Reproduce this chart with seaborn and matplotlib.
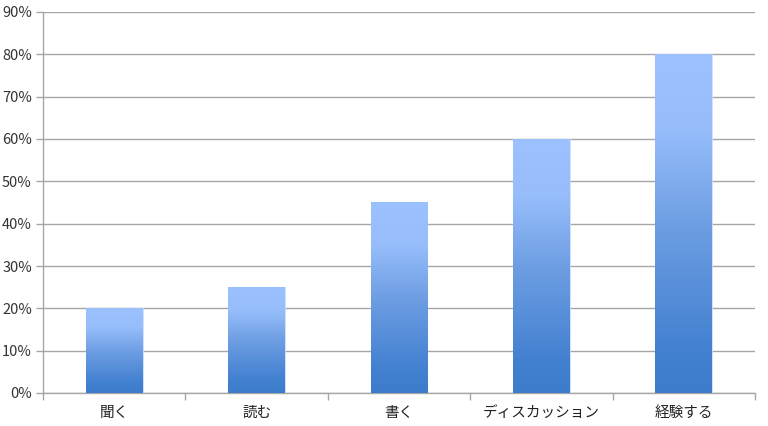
import numpy as np
import pandas as pd
import matplotlib
matplotlib.use("Agg")
import matplotlib.pyplot as plt
from matplotlib.colors import LinearSegmentedColormap
from matplotlib.ticker import FuncFormatter, FixedLocator
import seaborn as sns

categories = ["聞く", "読む", "書く", "ディスカッション", "経験する"]
values = [0.20, 0.25, 0.45, 0.60, 0.80]
y_ticks = [0.0, 0.1, 0.2, 0.3, 0.4, 0.5, 0.6, 0.7, 0.8, 0.9]

sns.set_theme(style="white")
plt.rcParams['font.family'] = ['Noto Sans CJK JP', 'DejaVu Sans']

fig = plt.figure(figsize=(7.68, 4.26), dpi=100)
ax = fig.add_axes([43/768, 33/426, 712/768, 381/426])

df = pd.DataFrame({"cat": categories, "val": values})
sns.barplot(data=df, x="cat", y="val", ax=ax, width=0.4, color="#6a9be6",
            saturation=1, zorder=3)

cmap = LinearSegmentedColormap.from_list(
    "g", [(0.0, "#3d7ccb"), (0.12, "#4280d0"), (0.5, "#6e9ee3"),
          (0.78, "#97befb"), (1.0, "#9bc1ff")])
grad = np.linspace(0, 1, 256).reshape(-1, 1)
for p in ax.patches:
    x0, y0 = p.get_x(), p.get_y()
    w, h = p.get_width(), p.get_height()
    im = ax.imshow(grad, cmap=cmap, origin="lower", aspect="auto",
                   extent=[x0, x0 + w, y0, y0 + h], zorder=3)
    im.set_clip_path(p)
    p.set_facecolor("none")
    p.set_edgecolor("#c8dcff")
    p.set_linewidth(0.6)
ax.set_xlim(-0.5, len(categories) - 0.5)
ax.set_ylim(0, 0.9)

ax.yaxis.set_major_locator(FixedLocator(y_ticks))
ax.yaxis.set_major_formatter(FuncFormatter(lambda v, _: f"{v*100:.0f}%"))
ax.grid(axis="y", color="#a6a6a6", linewidth=1.0, zorder=0)
ax.set_axisbelow(True)

for s in ["top", "right"]:
    ax.spines[s].set_visible(False)
for s in ["left", "bottom"]:
    ax.spines[s].set_color("#a6a6a6")
    ax.spines[s].set_linewidth(1.0)

ax.set_xlabel("")
ax.set_ylabel("")
ax.tick_params(axis="y", length=5, width=1, color="#a6a6a6", labelsize=10.5,
               labelcolor="#333333", pad=3, left=True)
ax.tick_params(axis="x", which="major", length=0, labelsize=10.5,
               labelcolor="#222222", pad=9)
ax.set_xticks(np.arange(-0.5, len(categories), 1.0), minor=True)
ax.tick_params(axis="x", which="minor", length=5, width=1, color="#a6a6a6",
               bottom=True)

fig.savefig("out.png", dpi=100)
